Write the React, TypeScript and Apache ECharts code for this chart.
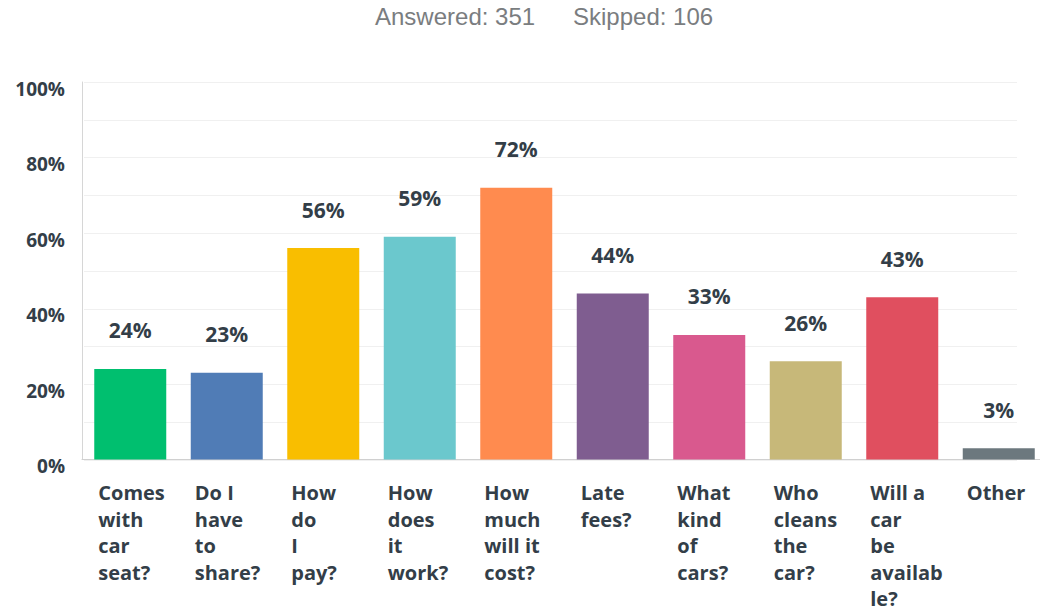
import React, { useEffect, useRef } from "react";
import * as echarts from "echarts";

const categories = [
  "Comes\nwith\ncar\nseat?",
  "Do I\nhave\nto\nshare?",
  "How\ndo\nI\npay?",
  "How\ndoes\nit\nwork?",
  "How\nmuch\nwill it\ncost?",
  "Late\nfees?",
  "What\nkind\nof\ncars?",
  "Who\ncleans\nthe\ncar?",
  "Will a\ncar\nbe\navailab\nle?",
  "Other",
];
const values = [24, 23, 56, 59, 72, 44, 33, 26, 43, 3];
const barColors = [
  "#00BF6F",
  "#507CB6",
  "#F9BE00",
  "#6BC8CD",
  "#FF8B4F",
  "#7F5D90",
  "#D9598E",
  "#C7B879",
  "#E04F5F",
  "#6C787E",
];
const answeredText = "Answered: 351";
const skippedText = "Skipped: 106";

export default function App() {
  const ref = useRef<HTMLDivElement>(null);
  useEffect(() => {
    if (!ref.current) return;
    const chart = echarts.init(ref.current, null, { renderer: "svg" });
    const font = "'Open Sans', 'DejaVu Sans', sans-serif";
    chart.setOption({
      animation: false,
      backgroundColor: "#ffffff",
      graphic: [
        {
          type: "text",
          left: 375,
          top: 4,
          style: {
            text: answeredText,
            fill: "#7a7d80",
            font: "24px 'Liberation Sans', Arial, sans-serif",
          },
        },
        {
          type: "text",
          left: 573,
          top: 4,
          style: {
            text: skippedText,
            fill: "#7a7d80",
            font: "24px 'Liberation Sans', Arial, sans-serif",
          },
        },
      ],
      grid: [
        { left: 82, top: 82, width: 965, height: 378 },
        { left: 84, top: 82, width: 933, height: 378 },
      ],
      xAxis: [
        {
          type: "category",
          gridIndex: 0,
          data: categories,
          axisTick: { show: false },
          axisLine: { show: true, lineStyle: { color: "#d0d0d0", width: 1 } },
          axisLabel: {
            interval: 0,
            margin: 20,
            color: "#333e48",
            fontFamily: font,
            fontWeight: "bold",
            fontSize: 20,
            lineHeight: 26.5,
            verticalAlign: "top",
            formatter: (v: string) =>
              v
                .split("\n")
                .map((l) => `{a|${l}}`)
                .join("\n"),
            rich: {
              a: {
                width: 64,
                align: "left",
                color: "#333e48",
                fontFamily: font,
                fontWeight: "bold",
                fontSize: 20,
                lineHeight: 26.5,
              },
            },
          },
        },
        {
          type: "category",
          gridIndex: 1,
          data: categories,
          show: false,
        },
      ],
      yAxis: [
        {
          type: "value",
          gridIndex: 0,
          min: 0,
          max: 100,
          interval: 10,
          axisLine: { show: true, lineStyle: { color: "#d6d6d6" } },
          axisTick: { show: false },
          splitLine: { show: false },
          axisLabel: {
            margin: 17,
            color: "#333e48",
            fontFamily: font,
            fontWeight: "bold",
            fontSize: 19,
            verticalAlign: "top",
            padding: [-3, 0, 0, 0],
            formatter: (v: number) => (v % 20 === 0 ? `${v}%` : ""),
          },
        },
        {
          type: "value",
          gridIndex: 1,
          min: 0,
          max: 100,
          interval: 10,
          axisLine: { show: false },
          axisTick: { show: false },
          axisLabel: { show: false },
          splitLine: { show: true, lineStyle: { color: "#f0f0f0", width: 1 } },
        },
      ],
      series: [
        {
          type: "bar",
          xAxisIndex: 0,
          yAxisIndex: 0,
          data: values.map((v, i) => ({
            value: v,
            itemStyle: { color: barColors[i] },
          })),
          barWidth: 72,
          z: 3,
          label: {
            show: true,
            position: "top",
            distance: 28,
            formatter: (p: any) => `${p.value}%`,
            color: "#333e48",
            fontFamily: font,
            fontWeight: "bold",
            fontSize: 21,
          },
        },
      ],
    });
    return () => chart.dispose();
  }, []);
  return (
    <div
      ref={ref}
      style={{ position: "fixed", left: 0, top: 0, width: 1050, height: 612 }}
    />
  );
}
